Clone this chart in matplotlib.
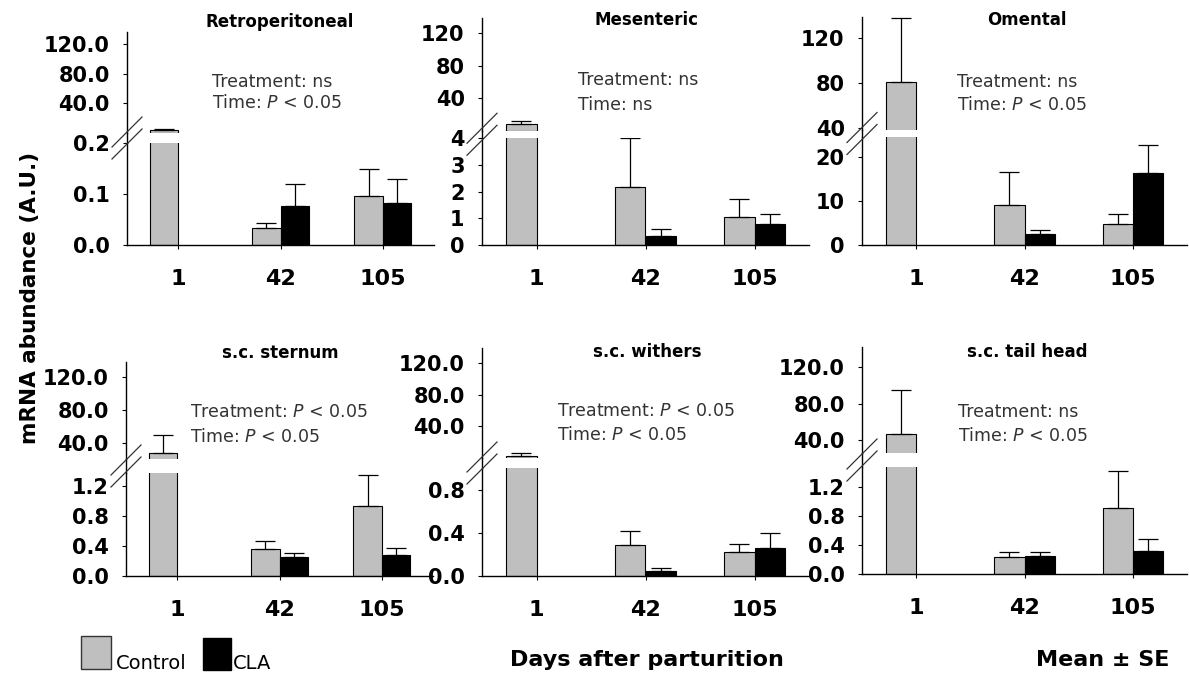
import numpy as np
import matplotlib
matplotlib.use('Agg')
import matplotlib.pyplot as plt
from matplotlib.lines import Line2D
from matplotlib.patches import Rectangle

# ---- data ----
Days      = ['1', '42', '105']
Panels    = ['Retroperitoneal', 'Mesenteric', 'Omental', 's.c. sternum', 's.c. withers', 's.c. tail head']
nan       = np.nan
Control   = [[4.0, 0.033, 0.096], [7.6, 2.18, 1.05], [81.0, 9.1, 4.8],
             [28.0, 0.36, 0.93], [2.9, 0.29, 0.22], [47.0, 0.23, 0.91]]
ControlSE = [[1.3, 0.010, 0.054], [4.5, 1.82, 0.68], [57.0, 7.5, 2.2],
             [22.0, 0.11, 0.42], [3.0, 0.13, 0.08], [48.0, 0.07, 0.51]]
CLA       = [[nan, 0.077, 0.082], [nan, 0.35, 0.78], [nan, 2.5, 16.4],
             [nan, 0.25, 0.28], [nan, 0.05, 0.26], [nan, 0.25, 0.32]]
CLASE     = [[nan, 0.043, 0.048], [nan, 0.25, 0.37], [nan, 0.9, 6.2],
             [nan, 0.05, 0.09], [nan, 0.02, 0.14], [nan, 0.05, 0.16]]
TreatTxt  = ['ns', 'ns', 'ns', '$P$ < 0.05', '$P$ < 0.05', 'ns']
TimeTxt   = ['$P$ < 0.05', 'ns', '$P$ < 0.05', '$P$ < 0.05', '$P$ < 0.05', '$P$ < 0.05']
LowTicks  = [[0, 0.1, 0.2], [0, 1, 2, 3, 4], [0, 10, 20], [0, 0.4, 0.8, 1.2], [0, 0.4, 0.8], [0, 0.4, 0.8, 1.2]]
UpTicks   = [40, 80, 120]
TickFmt   = ['%.1f', '%d', '%d', '%.1f', '%.1f', '%.1f']

# ---- layout in pixels: left, right, low bottom, low top, up bottom, up top ----
W, H      = 1189, 677
Box       = [(127, 434, 245, 143, 133, 32), (482, 809, 245, 138, 130.5, 18), (862, 1187, 245, 137, 130, 17),
             (126, 433, 576, 473, 459, 362), (482, 809, 576, 468, 458, 348), (862, 1187, 574, 467, 453, 347)]
LowLim    = [(0, 0.2), (0, 4), (0, 24.5), (0, 1.37), (0, 1.0), (0, 1.48)]
UpLim     = [(0, 136), (0, 138.5), (38, 138.5), (20.6, 138), (0, 139), (25.8, 142)]
TitlePos  = [(280, 22), (647, 20), (1027, 20), (280, 353), (647, 352), (1027, 352)]
NotePos   = [(212, 82, 103), (578, 80, 105), (957, 82, 105), (190, 412, 437), (557, 411, 435), (958, 412, 436)]

gray      = '#bfbfbf'
barW      = 0.28
xPos      = np.arange(len(Days)) + 0.5

fig = plt.figure(figsize=(W/100, H/100), dpi=100)

def fx(x):
	return x/W

def fy(y):
	return 1 - y/H

def DrawBars(ax, ctrl, ctrlSE, cla, claSE, mask):
	c  = np.where(mask, ctrl, nan)
	k  = np.where(mask, cla, nan)
	ax.bar(xPos - barW/2, c, barW, color=gray, edgecolor='black', linewidth=0.8, zorder=2)
	ax.bar(xPos + barW/2, k, barW, color='black', edgecolor='black', linewidth=0.8, zorder=2)
	ax.errorbar(xPos - barW/2, c, yerr=[np.zeros(3), ctrlSE], fmt='none', ecolor='black',
	            elinewidth=0.9, capsize=7, capthick=0.9, zorder=3)
	ax.errorbar(xPos + barW/2, k, yerr=[np.zeros(3), claSE], fmt='none', ecolor='black',
	            elinewidth=0.9, capsize=7, capthick=0.9, zorder=3)

for i in range(len(Panels)):
	l, r, lb, lt, ub, ut = Box[i]
	ctrl   = np.array(Control[i])
	ctrlSE = np.array(ControlSE[i])
	cla    = np.array(CLA[i])
	claSE  = np.array(CLASE[i])

	axLo = fig.add_axes([fx(l), fy(lb), (r-l)/W, (lb-lt)/H])
	axUp = fig.add_axes([fx(l), fy(ub), (r-l)/W, (ub-ut)/H])

	DrawBars(axLo, ctrl, ctrlSE, cla, claSE, np.ones(3, dtype=bool))
	# only bars that go past the break are drawn in the upper part
	DrawBars(axUp, ctrl, ctrlSE, cla, claSE, np.nan_to_num(ctrl) > LowLim[i][1])

	for ax in [axLo, axUp]:
		ax.set_xlim(0, 3)
		ax.patch.set_alpha(0)
		ax.spines['top'].set_visible(False)
		ax.spines['right'].set_visible(False)
		ax.spines['left'].set_linewidth(1)
		ax.tick_params(axis='y', direction='out', length=3, width=0.8, pad=9.5,
		               labelsize=15)

	axLo.set_ylim(LowLim[i])
	axLo.set_yticks(LowTicks[i])
	axLo.set_yticklabels([TickFmt[i] % v for v in LowTicks[i]], fontsize=15, fontweight='bold')
	axLo.set_xticks(xPos)
	axLo.set_xticklabels(Days, fontsize=16, fontweight='bold')
	axLo.tick_params(axis='x', direction='out', length=3, width=0.8, pad=14)
	axLo.spines['bottom'].set_linewidth(1)

	axUp.set_ylim(UpLim[i])
	axUp.set_yticks(UpTicks)
	axUp.set_yticklabels([TickFmt[i] % v for v in UpTicks], fontsize=15, fontweight='bold')
	axUp.spines['bottom'].set_visible(False)
	axUp.set_xticks([])

	# continuous spine and break marks
	fig.add_artist(Line2D([fx(l), fx(l)], [fy(lt), fy(ub)], color='black', linewidth=1))
	mid = (lt + ub)/2
	for dy in [-6, 6]:
		fig.add_artist(Line2D([fx(l-15), fx(l+15)], [fy(mid+dy+15), fy(mid+dy-15)],
		                      color='#333333', linewidth=0.9))

	fig.text(fx(TitlePos[i][0]), fy(TitlePos[i][1]), Panels[i], ha='center', va='center',
	         fontsize=12, fontweight='bold')
	fig.text(fx(NotePos[i][0]), fy(NotePos[i][1]), 'Treatment: ' + TreatTxt[i], ha='left', va='center',
	         fontsize=12.5, color='#333333')
	fig.text(fx(NotePos[i][0]), fy(NotePos[i][2]), 'Time: ' + TimeTxt[i], ha='left', va='center',
	         fontsize=12.5, color='#333333')

fig.text(fx(30), fy(298), 'mRNA abundance (A.U.)', rotation=90, ha='center', va='center',
         fontsize=15.5, fontweight='bold')
fig.text(fx(647), fy(660), 'Days after parturition', ha='center', va='center',
         fontsize=16, fontweight='bold')
fig.text(fx(1103), fy(660), 'Mean \u00b1 SE', ha='center', va='center',
         fontsize=16, fontweight='bold')

# legend swatches
fig.add_artist(Rectangle((fx(81), fy(669)), 30/W, 33/H, facecolor=gray, edgecolor='#333333', linewidth=1))
fig.add_artist(Rectangle((fx(203), fy(670)), 28/W, 32/H, facecolor='black', edgecolor='black', linewidth=1))
fig.text(fx(116), fy(669), 'Control', ha='left', va='baseline', fontsize=14)
fig.text(fx(233), fy(669), 'CLA', ha='left', va='baseline', fontsize=14)

plt.savefig('out.png', dpi=100)
plt.close(fig)
